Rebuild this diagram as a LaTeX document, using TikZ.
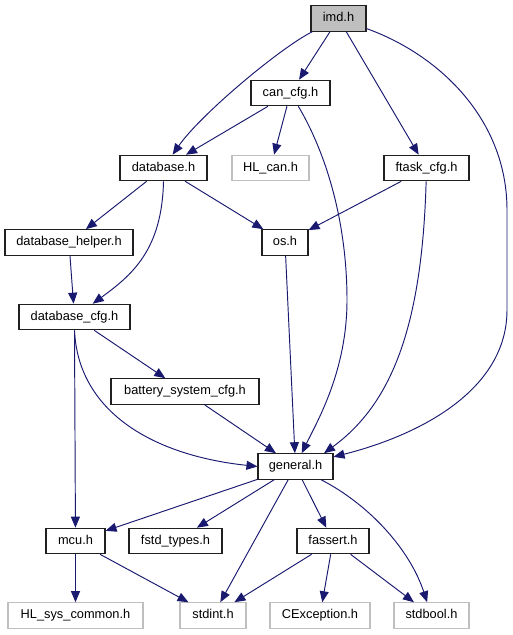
\documentclass[tikz,border=0pt]{standalone}
\usepackage{fontspec}
\setmainfont{Liberation Sans}
\usetikzlibrary{arrows.meta}
\definecolor{edgeblue}{HTML}{191970}
\definecolor{lightgrey}{HTML}{BFBFBF}
\definecolor{boxline}{HTML}{202020}
\tikzset{
  box/.style={draw=boxline, line width=1.1pt, fill=white, inner sep=0pt, minimum height=25.5pt,
    font=\fontsize{12.8pt}{14pt}\selectfont, text height=9.3pt, text depth=2.8pt},
  ext/.style={box, draw=lightgrey},
  root/.style={box, fill=lightgrey},
  e/.style={draw=edgeblue, line width=0.95pt, -{Triangle[length=11pt,width=9pt]}, fill=none}
}
\begin{document}
\begin{tikzpicture}[x=1pt,y=-1pt]
\useasboundingbox (0,0) rectangle (512,635);
\node[root, minimum width=55pt] (imd) at (338.5,18.5) {imd.h};
\node[box, minimum width=79pt] (can) at (290.5,93) {can\_cfg.h};
\node[box, minimum width=87pt] (db) at (163.5,168) {database.h};
\node[ext, minimum width=77pt] (hlcan) at (270.5,168) {HL\_can.h};
\node[box, minimum width=85pt] (ftask) at (426.5,168) {ftask\_cfg.h};
\node[box, minimum width=128pt] (dbh) at (69,242.5) {database\_helper.h};
\node[box, minimum width=46pt] (os) at (285,242.5) {os.h};
\node[box, minimum width=111pt] (dbc) at (74.5,317) {database\_cfg.h};
\node[box, minimum width=148pt] (bsc) at (185,391.5) {battery\_system\_cfg.h};
\node[box, minimum width=75pt] (gen) at (295.5,466.5) {general.h};
\node[box, minimum width=59pt] (mcu) at (75.5,541) {mcu.h};
\node[box, minimum width=93pt] (fstd) at (175.5,541) {fstd\_types.h};
\node[box, minimum width=72pt] (fas) at (333,541) {fassert.h};
\node[ext, minimum width=135pt] (hlsys) at (75.5,615.5) {HL\_sys\_common.h};
\node[ext, minimum width=66pt] (sint) at (213,615.5) {stdint.h};
\node[ext, minimum width=100pt] (cexc) at (320,615.5) {CException.h};
\node[ext, minimum width=75pt] (sbool) at (431.5,615.5) {stdbool.h};

% edges
\draw[e] (imd) .. controls (280,48) and (200,115) .. (db);
\draw[e] (imd) -- (can);
\draw[e] (imd) -- (ftask);
\draw[e] (imd) .. controls (440,55) and (507,120) .. (507,210) -- (507,310) .. controls (507,390) and (420,435) .. (gen);
\draw[e] (can) -- (db);
\draw[e] (can) -- (hlcan);
\draw[e] (can) .. controls (330,160) and (347,230) .. (347,300) .. controls (347,370) and (318,420) .. (gen.65);
\draw[e] (ftask) -- (os);
\draw[e] (ftask) .. controls (422,330) and (390,405) .. (gen.25);
\draw[e] (db) -- (dbh);
\draw[e] (db.south) .. controls (162,250) and (132,275) .. (dbc);
\draw[e] (db) -- (os);
\draw[e] (dbh) -- (dbc);
\draw[e] (os) -- (gen);
\draw[e] (dbc) -- (bsc);
\draw[e] (dbc.south) -- (mcu);
\draw[e] (dbc.south) .. controls (78,410) and (150,455) .. (gen.west);
\draw[e] (bsc) -- (gen);
\draw[e] (gen) -- (mcu);
\draw[e] (gen) -- (fstd);
\draw[e] (gen) -- (sint);
\draw[e] (gen) -- (fas);
\draw[e] (gen) .. controls (370,505) and (410,550) .. (sbool);
\draw[e] (mcu) -- (hlsys);
\draw[e] (mcu) -- (sint);
\draw[e] (fas) -- (sint);
\draw[e] (fas) -- (cexc);
\draw[e] (fas) -- (sbool);
\end{tikzpicture}
\end{document}
